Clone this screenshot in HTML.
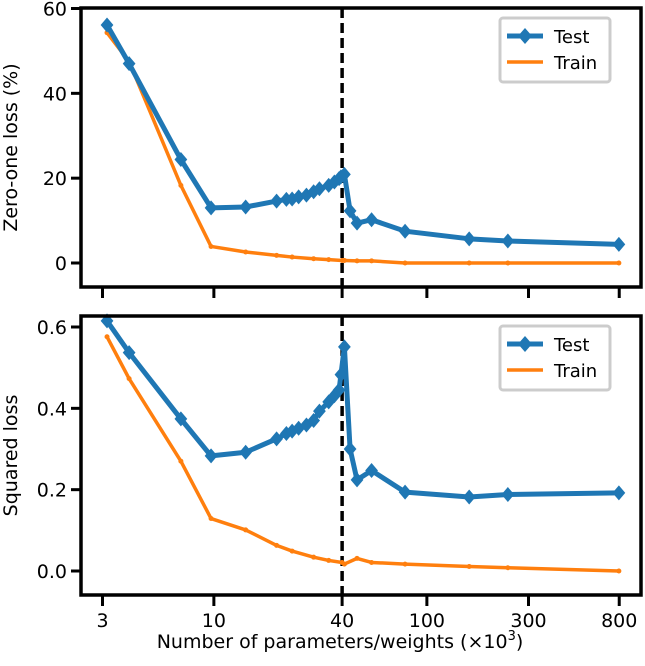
<!DOCTYPE html>
<html><head><meta charset="utf-8"><style>
html,body{margin:0;padding:0;background:#fff}
svg text{font-family:"DejaVu Sans","Liberation Sans",sans-serif;fill:#000}
</style></head><body>
<svg id="chart" width="645" height="661" viewBox="0 0 645 661" xmlns="http://www.w3.org/2000/svg"></svg>
<script>
const xTicks = [3, 10, 40, 100, 300, 800];
const xTickLabels = ["3", "10", "40", "100", "300", "800"];
const xTest = [3.15, 4, 7, 9.7, 14.1, 19.7, 21.9, 23.3, 25, 27.2, 29.4, 31.3, 34.6, 36.8, 38.7, 39.5, 41, 43.6, 47, 55, 79, 158, 240, 797];
const zeroOneTest = [56.1, 47, 24.4, 13, 13.2, 14.6, 15, 15.1, 15.6, 16, 16.8, 17.5, 18.3, 19.1, 19.9, 20.3, 20.9, 12.3, 9.4, 10.2, 7.5, 5.7, 5.2, 4.4];
const xTrain = [3.15, 4, 7, 9.7, 14.1, 19.7, 23.3, 29.4, 34.6, 40, 41, 47, 55, 79, 158, 240, 797];
const zeroOneTrain = [54.3, 47.5, 18.3, 3.9, 2.6, 1.8, 1.4, 1.0, 0.8, 0.6, 0.6, 0.5, 0.5, 0.0, 0.0, 0.0, 0.0];
const squaredTest = [0.615, 0.537, 0.374, 0.283, 0.292, 0.325, 0.338, 0.344, 0.351, 0.359, 0.37, 0.393, 0.416, 0.431, 0.445, 0.483, 0.551, 0.3, 0.224, 0.247, 0.194, 0.182, 0.188, 0.192];
const squaredTrain = [0.576, 0.473, 0.27, 0.129, 0.101, 0.063, 0.049, 0.034, 0.026, 0.021, 0.017, 0.031, 0.021, 0.017, 0.011, 0.008, 0.0];
const zeroOneTicks = [0, 20, 40, 60];
const squaredTicks = [0, 0.2, 0.4, 0.6];
const thresholdX = 40;

const NS = "http://www.w3.org/2000/svg";
const svg = document.getElementById("chart");
const BLUE = "#1f77b4", ORANGE = "#ff7f0e";
const L = 81, R = 641;
function xs(v){ return 102.5 + 213 * Math.log10(v / 3); }
function mk(tag, attrs, parent){ const e = document.createElementNS(NS, tag); for (const k in attrs) e.setAttribute(k, attrs[k]); (parent || svg).appendChild(e); return e; }

function panel(cfg){
  const g = mk("g", {});
  
  
  const ys = v => cfg.y0 + (v - cfg.vmin) * (cfg.y1 - cfg.y0) / (cfg.vmax - cfg.vmin);
  const th = mk("line", {x1: xs(thresholdX), x2: xs(thresholdX), y1: cfg.top, y2: cfg.bottom, stroke: "#000", "stroke-width": 3.5, "stroke-dasharray": "10,5"}, g);
  
  
  const trPts = xTrain.map((x, i) => xs(x) + "," + ys(cfg.train[i])).join(" ");
  const tr = mk("polyline", {points: trPts, fill: "none", stroke: ORANGE, "stroke-width": 3.5, "stroke-linejoin": "round"}, g);
  
  
  xTrain.forEach((x, i) => {
    const c = mk("circle", {cx: xs(x), cy: ys(cfg.train[i]), r: 2.5, fill: ORANGE}, g);
    
    
  });
  const tePts = xTest.map((x, i) => xs(x) + "," + ys(cfg.test[i])).join(" ");
  const te = mk("polyline", {points: tePts, fill: "none", stroke: BLUE, "stroke-width": 5, "stroke-linejoin": "round"}, g);
  
  
  xTest.forEach((x, i) => {
    const px = xs(x), py = ys(cfg.test[i]), d = 7.5;
    const p = mk("polygon", {points: `${px},${py-d} ${px+d*0.85},${py} ${px},${py+d} ${px-d*0.85},${py}`, fill: BLUE}, g);
    
    
  });
  const fr = mk("rect", {x: L, y: cfg.top, width: R - L, height: cfg.bottom - cfg.top, fill: "none", stroke: "#000", "stroke-width": 3.5}, g);
  
  
  cfg.ticks.forEach(t => {
    const y = ys(t);
    mk("line", {x1: L - 10, x2: L, y1: y, y2: y, stroke: "#000", "stroke-width": 3}, g);
    const tx = mk("text", {x: L - 14, y: y + 7, "text-anchor": "end", "font-size": 19}, g);
    tx.textContent = cfg.fmt(t);
    
    
  });
  xTicks.forEach((t, i) => {
    const x = xs(t);
    mk("line", {x1: x, x2: x, y1: cfg.bottom, y2: cfg.bottom + 11, stroke: "#000", "stroke-width": 3}, g);
    if (cfg.xlabels) {
      const tx = mk("text", {x: x, y: cfg.bottom + 32, "text-anchor": "middle", "font-size": 19}, g);
      tx.textContent = xTickLabels[i];
      
      
    }
  });
  const cy = (cfg.top + cfg.bottom) / 2;
  const yt = mk("text", {x: 0, y: 0, transform: `translate(17,${cy}) rotate(-90)`, "text-anchor": "middle", "font-size": 19}, g);
  yt.textContent = cfg.title;
  
  
  const lg = mk("g", {}, g);
  
  
  const lx = 500, ly = cfg.top + 10;
  mk("rect", {x: lx, y: ly, width: 110, height: 64, rx: 3, fill: "#fff", stroke: "#ccc", "stroke-width": 3}, lg);
  mk("line", {x1: lx + 7, x2: lx + 43, y1: ly + 18, y2: ly + 18, stroke: BLUE, "stroke-width": 5}, lg);
  mk("polygon", {points: `${lx+25},${ly+10} ${lx+32},${ly+18} ${lx+25},${ly+26} ${lx+18},${ly+18}`, fill: BLUE}, lg);
  const t1 = mk("text", {x: lx + 54, y: ly + 25, "font-size": 18}, lg); t1.textContent = "Test";
  
  
  mk("line", {x1: lx + 7, x2: lx + 43, y1: ly + 44, y2: ly + 44, stroke: ORANGE, "stroke-width": 3.5}, lg);
  const t2 = mk("text", {x: lx + 54, y: ly + 51, "font-size": 18}, lg); t2.textContent = "Train";
  
  
}

panel({name: "zero-one-loss-panel", top: 8, bottom: 287, y0: 263, y1: 8.5, vmin: 0, vmax: 60,
  test: zeroOneTest, train: zeroOneTrain, ticks: zeroOneTicks, fmt: t => String(t), title: "Zero-one loss (%)", xlabels: false});
panel({name: "squared-loss-panel", top: 316, bottom: 595, y0: 571, y1: 327, vmin: 0, vmax: 0.6,
  test: squaredTest, train: squaredTrain, ticks: squaredTicks, fmt: t => t.toFixed(1), title: "Squared loss", xlabels: true});

const xt = mk("text", {x: 340, y: 648, "text-anchor": "middle", "font-size": 19});


xt.textContent = "Number of parameters/weights (×10";
const sup = mk("tspan", {dy: -8, "font-size": 13}, xt); sup.textContent = "3";
const cl = mk("tspan", {dy: 8}, xt); cl.textContent = ")";
</script>
</body></html>
